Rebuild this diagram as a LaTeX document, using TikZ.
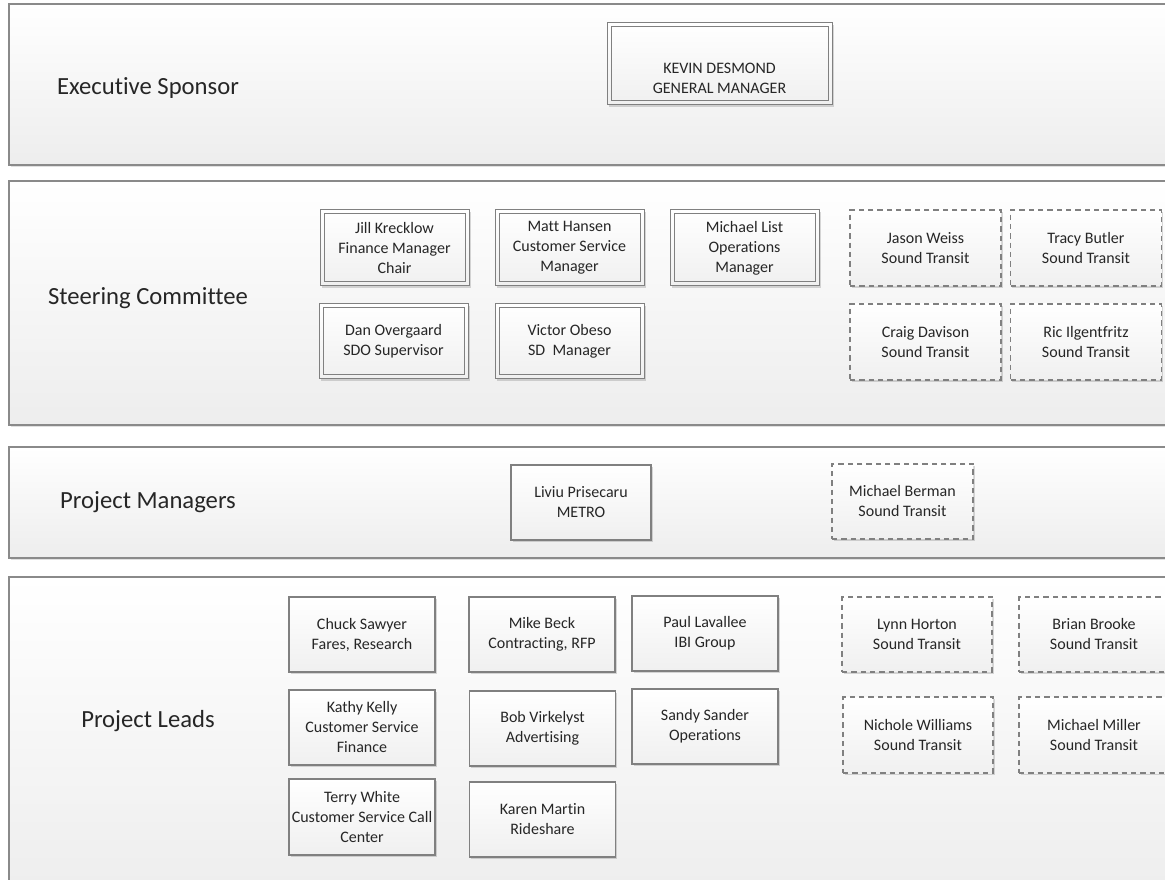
\documentclass[tikz,border=0pt]{standalone}
\usepackage{fontspec}
\setmainfont{Carlito}[Ligatures=NoCommon]
\usetikzlibrary{shadows}
\definecolor{bandline}{HTML}{8A8A8A}
\definecolor{boxline}{HTML}{808080}
\definecolor{txt}{HTML}{262626}
\begin{document}
\begin{tikzpicture}[x=0.75pt,y=-0.75pt,
  band/.style={draw=bandline, line width=0.8pt, top color=white, bottom color=black!7,
    drop shadow={shadow xshift=1.8pt, shadow yshift=-1.8pt, opacity=0.12, fill=black}},
  bandlabel/.style={anchor=base, inner sep=0pt, text=txt, font=\fontsize{18.5}{22}\selectfont},
  boxbase/.style={rectangle, inner sep=0pt, align=center, text=txt,
    font=\fontsize{12}{15}\selectfont, top color=white, bottom color=black!6,
    drop shadow={shadow xshift=1.2pt, shadow yshift=-1.2pt, opacity=0.15, fill=black}},
  solidbox/.style={boxbase, draw=boxline, line width=0.8pt},
  dbox/.style={boxbase, draw=boxline, line width=0.75pt,
    path picture={\draw[boxline, line width=0.75pt]
      ([shift={(3pt,-3pt)}]path picture bounding box.north west) rectangle
      ([shift={(-3pt,3pt)}]path picture bounding box.south east);}},
  dashbox/.style={boxbase, draw=boxline, line width=0.8pt, dash pattern=on 4pt off 3pt},
  sz/.style 2 args={minimum width=#1*0.75pt, minimum height=#2*0.75pt},
  boxtext/.style={inner sep=0pt, align=center, text=txt, font=\fontsize{12}{15}\selectfont},
]
\useasboundingbox (0,0) rectangle (1165,880);

% bands
\path[band] (9,4) rectangle (1180,165);
\path[band] (9,181) rectangle (1180,425);
\path[band] (9,447) rectangle (1180,558);
\path[band] (9,577) rectangle (1180,900);

% band labels
\node[bandlabel] (lexec) at (148,95) {Executive Sponsor};
\node[bandlabel] (lsteer) at (148,305) {Steering Committee};
\node[bandlabel] (lpm) at (148,509) {Project Managers};
\node[bandlabel] (lleads) at (148,727) {Project Leads};

% executive sponsor
\node[dbox, sz={225}{82}] (kevin) at (719.5,64) {};
\node[boxtext] (kevintxt) at ([yshift=-11pt]kevin.center) {KEVIN DESMOND\\GENERAL MANAGER};

% steering committee
\node[dbox, sz={149}{76}] (jill) at (394.5,248) {Jill Krecklow\\Finance Manager\\Chair};
\node[dbox, sz={149}{76}] (matt) at (569.5,248) {Matt Hansen\\Customer Service\\Manager};
\node[dbox, sz={149}{76}] (mlist) at (744.5,248) {Michael List\\Operations\\Manager};
\node[dbox, sz={149}{75}] (dan) at (393.5,341.5) {Dan Overgaard\\SDO Supervisor};
\node[dbox, sz={149}{75}] (victor) at (569.5,341.5) {Victor Obeso\\SD\ \ Manager};
\node[dashbox, sz={151}{76}] (jason) at (925.5,248) {Jason Weiss\\Sound Transit};
\node[dashbox, sz={151}{76}] (tracy) at (1086,248) {Tracy Butler\\Sound Transit};
\node[dashbox, sz={151}{76}] (craig) at (925.5,342) {Craig Davison\\Sound Transit};
\node[dashbox, sz={151}{76}] (ric) at (1086,342) {Ric Ilgentfritz\\Sound Transit};

% project managers
\node[solidbox, sz={140}{75}] (liviu) at (581,502.5) {Liviu Prisecaru\\METRO};
\node[dashbox, sz={141}{75}] (berman) at (902.5,501.5) {Michael Berman\\Sound Transit};

% project leads
\node[solidbox, sz={146}{75}] (chuck) at (362,634.5) {Chuck Sawyer\\Fares, Research};
\node[solidbox, sz={146}{75}] (beck) at (542,634.5) {Mike Beck\\Contracting, RFP};
\node[solidbox, sz={146}{75}] (paul) at (705,633.5) {Paul Lavallee\\IBI Group};
\node[solidbox, sz={146}{75}] (kathy) at (362,727.5) {Kathy Kelly\\Customer Service\\Finance};
\node[solidbox, sz={146}{75}] (bob) at (542.5,728.5) {Bob Virkelyst\\Advertising};
\node[solidbox, sz={146}{75}] (sandy) at (705,726.5) {Sandy Sander\\Operations};
\node[solidbox, sz={146}{76}] (terry) at (362,817) {Terry White\\Customer Service Call\\Center};
\node[solidbox, sz={146}{75}] (karen) at (542.5,819.5) {Karen Martin\\Rideshare};
\node[dashbox, sz={150}{75}] (lynn) at (917,634.5) {Lynn Horton\\Sound Transit};
\node[dashbox, sz={150}{75}] (brian) at (1094,634.5) {Brian Brooke\\Sound Transit};
\node[dashbox, sz={150}{76}] (nichole) at (918,735) {Nichole Williams\\Sound Transit};
\node[dashbox, sz={150}{76}] (miller) at (1094,735) {Michael Miller\\Sound Transit};
\end{tikzpicture}
\end{document}
